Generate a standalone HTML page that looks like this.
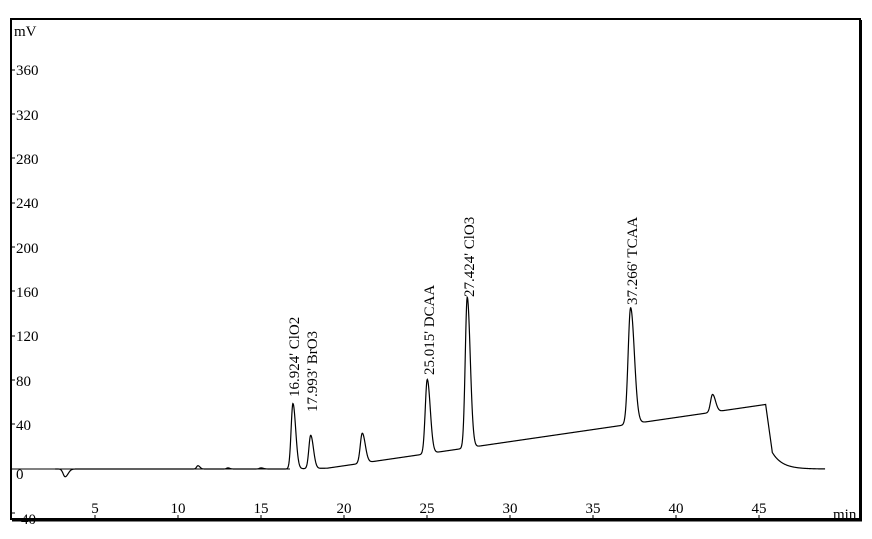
<!DOCTYPE html>
<html><head><meta charset="utf-8"><style>
html,body{margin:0;padding:0;background:#fff;}
svg{display:block;font-family:"Liberation Serif",serif;}
</style></head><body>
<svg id="s" width="872" height="539" viewBox="0 0 872 539" xmlns="http://www.w3.org/2000/svg">
<rect x="0" y="0" width="872" height="539" fill="#fff"/>
<rect x="11" y="19" width="849" height="500" fill="none" stroke="#000" stroke-width="2"/>
<line x1="861" y1="20" x2="861" y2="521" stroke="#000" stroke-width="2"/>
<line x1="12" y1="520.5" x2="862" y2="520.5" stroke="#000" stroke-width="2"/>
<g font-size="15" fill="#000">
<text x="14" y="36">mV</text>
<text x="16" y="75">360</text>
<text x="16" y="120">320</text>
<text x="16" y="164">280</text>
<text x="16" y="208">240</text>
<text x="16" y="253">200</text>
<text x="16" y="297">160</text>
<text x="16" y="341">120</text>
<text x="16" y="386">80</text>
<text x="16" y="430">40</text>
<text x="16" y="479">0</text>
<text x="16" y="524">-40</text>
<text x="95" y="513" text-anchor="middle">5</text>
<text x="178" y="513" text-anchor="middle">10</text>
<text x="261" y="513" text-anchor="middle">15</text>
<text x="344" y="513" text-anchor="middle">20</text>
<text x="427" y="513" text-anchor="middle">25</text>
<text x="510" y="513" text-anchor="middle">30</text>
<text x="593" y="513" text-anchor="middle">35</text>
<text x="676" y="513" text-anchor="middle">40</text>
<text x="759" y="513" text-anchor="middle">45</text>
<text x="833" y="519">min</text>
</g>
<g stroke="#000" stroke-width="1">
<line x1="12" y1="70" x2="15" y2="70"/><line x1="12" y1="114" x2="15" y2="114"/>
<line x1="12" y1="158" x2="15" y2="158"/><line x1="12" y1="203" x2="15" y2="203"/>
<line x1="12" y1="247" x2="15" y2="247"/><line x1="12" y1="291" x2="15" y2="291"/>
<line x1="12" y1="336" x2="15" y2="336"/><line x1="12" y1="380" x2="15" y2="380"/>
<line x1="12" y1="424" x2="15" y2="424"/><line x1="12" y1="513" x2="15" y2="513"/>
<line x1="95" y1="519" x2="95" y2="515"/><line x1="178" y1="519" x2="178" y2="515"/>
<line x1="261" y1="519" x2="261" y2="515"/><line x1="344" y1="519" x2="344" y2="515"/>
<line x1="427" y1="519" x2="427" y2="515"/><line x1="510" y1="519" x2="510" y2="515"/>
<line x1="593" y1="519" x2="593" y2="515"/><line x1="676" y1="519" x2="676" y2="515"/>
<line x1="759" y1="519" x2="759" y2="515"/>
</g>
<line x1="12" y1="469" x2="290" y2="469" stroke="#000" stroke-width="1"/>
<path id="c" fill="none" stroke="#000" stroke-width="1.2"/>
<g font-size="15" fill="#000" xml:space="preserve" style="white-space:pre">
<text transform="translate(299,397) rotate(-90)">16.924'  ClO2</text>
<text transform="translate(317,412) rotate(-90)">17.993'  BrO3</text>
<text transform="translate(434,375) rotate(-90)">25.015'  DCAA</text>
<text transform="translate(474,297) rotate(-90)">27.424'  ClO3</text>
<text transform="translate(637,305) rotate(-90)">37.266'  TCAA</text>
</g>
</svg>
<script>
function base(t){
 if(t<16.5) return 0;
 if(t<19) return (t-16.5)*0.3;
 if(t<45.4) return 0.75+(t-19)*(57.5/26.4);
 if(t<45.8) return 58.25-(t-45.4)/0.4*43;
 return 15*Math.exp(-(t-45.8)/0.6);
}
var P=[[3.2,-7,0.12],[11.2,3,0.08],[13,1,0.08],[15,1,0.1],[16.924,59,0.11],[17.993,30,0.11],[21.1,27,0.12],[25.015,67,0.12],[27.424,136,0.12],[37.266,105,0.15],[42.2,16,0.12]];
function f(t){
 var v=base(t);
 for(var i=0;i<P.length;i++){var p=P[i];var d=t-p[0];var s=d>0?p[2]*1.5:p[2];v+=p[1]*Math.exp(-d*d/(2*s*s));}
 return v;
}
var d="";
for(var t=2.6;t<=49;t+=0.02){var x=12+t*16.6;var y=469-1.108*f(t);d+=(d?"L":"M")+x.toFixed(2)+","+y.toFixed(2);}
document.getElementById("c").setAttribute("d",d);
</script>
</body></html>
